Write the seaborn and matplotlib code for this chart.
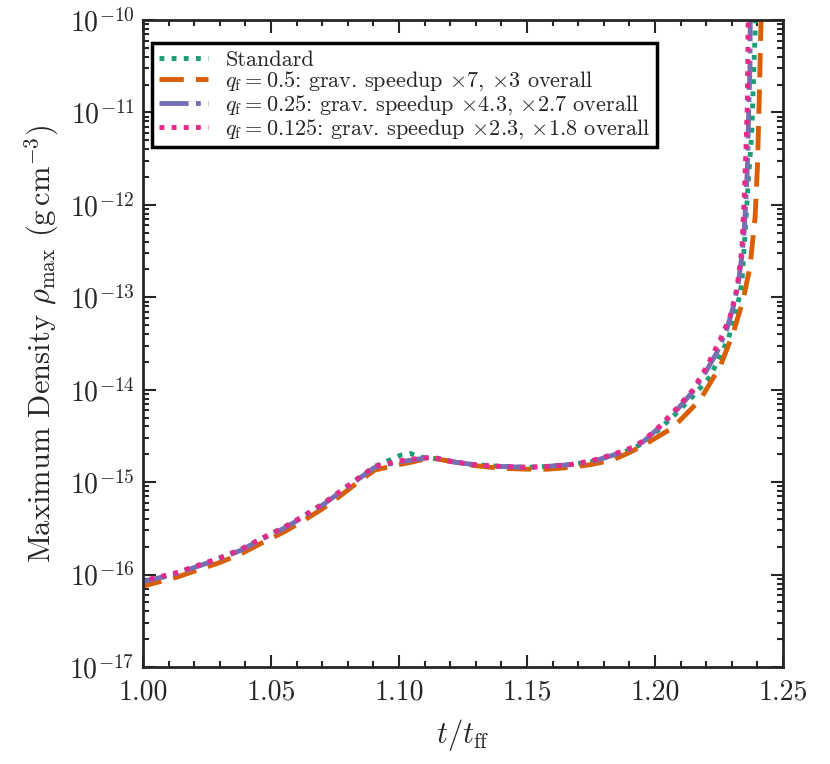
import numpy as np
import pandas as pd
import matplotlib
matplotlib.use('Agg')
import matplotlib.pyplot as plt
import seaborn as sns
from matplotlib.ticker import FixedLocator, MultipleLocator, NullFormatter

# t/t_ff and log10(rho_max)
x_std = [0.998, 1.013, 1.030, 1.038, 1.047, 1.055, 1.0625, 1.070, 1.077, 1.0835, 1.0905, 1.0965, 1.1005, 1.1045,
         1.108, 1.113, 1.121, 1.129, 1.1395, 1.150, 1.158, 1.167, 1.175, 1.1835, 1.1915, 1.1955, 1.202, 1.2085,
         1.2148, 1.2215, 1.2285, 1.2319, 1.2339, 1.2352, 1.2364, 1.2378, 1.2384, 1.2391, 1.2393]
y_std = [-16.10, -15.99, -15.82, -15.73, -15.60, -15.49, -15.37, -15.24, -15.10, -14.97, -14.83, -14.76, -14.71,
         -14.69, -14.73, -14.74, -14.78, -14.81, -14.83, -14.84, -14.83, -14.81, -14.78, -14.71, -14.64, -14.57,
         -14.42, -14.25, -14.07, -13.86, -13.46, -13.14, -12.85, -12.30, -11.76, -11.22, -10.68, -10.14, -9.9]

x_q05 = [0.998, 1.013, 1.030, 1.038, 1.047, 1.055, 1.0625, 1.070, 1.077, 1.0835, 1.0905, 1.100, 1.1055, 1.110,
         1.113, 1.121, 1.129, 1.1395, 1.150, 1.158, 1.167, 1.175, 1.1835, 1.190, 1.1968, 1.207, 1.2176, 1.2254,
         1.2305, 1.2344, 1.2371, 1.2391, 1.2400, 1.2407, 1.2413, 1.2416]
y_q05 = [-16.14, -16.03, -15.87, -15.78, -15.65, -15.54, -15.42, -15.29, -15.15, -15.01, -14.87, -14.81, -14.78,
         -14.75, -14.74, -14.78, -14.82, -14.85, -14.86, -14.86, -14.84, -14.81, -14.76, -14.68, -14.58, -14.41,
         -14.11, -13.75, -13.39, -13.03, -12.67, -12.13, -11.59, -10.87, -10.14, -9.9]

x_q025 = [0.998, 1.013, 1.030, 1.038, 1.047, 1.055, 1.0625, 1.070, 1.077, 1.0835, 1.0905, 1.100, 1.1055, 1.110,
          1.113, 1.121, 1.129, 1.1395, 1.150, 1.158, 1.167, 1.175, 1.1835, 1.1915, 1.1955, 1.202, 1.2085, 1.2148,
          1.2202, 1.2241, 1.228, 1.2306, 1.2325, 1.2339, 1.2348, 1.2355, 1.2361, 1.2364, 1.2367, 1.2371, 1.2372]
y_q025 = [-16.09, -15.99, -15.83, -15.74, -15.61, -15.50, -15.38, -15.25, -15.11, -14.98, -14.84, -14.78, -14.76,
          -14.74, -14.73, -14.78, -14.81, -14.83, -14.84, -14.83, -14.81, -14.78, -14.71, -14.63, -14.56, -14.40,
          -14.22, -14.02, -13.79, -13.60, -13.35, -13.10, -12.85, -12.56, -12.30, -11.95, -11.59, -11.22, -10.87,
          -10.50, -9.9]

x_q0125 = [0.998, 1.013, 1.030, 1.038, 1.047, 1.055, 1.0625, 1.070, 1.077, 1.0835, 1.0905, 1.100, 1.1055, 1.110,
           1.113, 1.121, 1.129, 1.1395, 1.150, 1.158, 1.167, 1.175, 1.1835, 1.1915, 1.1955, 1.202, 1.2085, 1.2148,
           1.2202, 1.2254, 1.2293, 1.2319, 1.2339, 1.2348, 1.2355, 1.2361, 1.2364]
y_q0125 = [-16.08, -15.98, -15.82, -15.73, -15.60, -15.49, -15.37, -15.24, -15.10, -14.97, -14.83, -14.77, -14.75,
           -14.74, -14.73, -14.78, -14.81, -14.83, -14.84, -14.83, -14.81, -14.77, -14.70, -14.62, -14.55, -14.39,
           -14.20, -14.00, -13.75, -13.46, -13.21, -12.92, -12.49, -11.95, -11.41, -10.87, -9.9]

labels = ['Standard',
          r'$q_{\rm f} = 0.5$: grav. speedup $\times 7$, $\times 3$ overall',
          r'$q_{\rm f} = 0.25$: grav. speedup $\times 4.3$, $\times 2.7$ overall',
          r'$q_{\rm f} = 0.125$: grav. speedup $\times 2.3$, $\times 1.8$ overall']

decades = [-17, -16, -15, -14, -13, -12, -11, -10]

sns.set_style('ticks')
plt.rcParams.update({'font.family': 'serif', 'font.serif': ['cmr10'], 'mathtext.fontset': 'cm',
                     'axes.formatter.use_mathtext': True, 'axes.unicode_minus': False})

colors = sns.color_palette('Dark2', 4)
styles = [(0, (1, 1.5)), (0, (5, 2.5)), (0, (6, 1.5, 1, 1.5)), (0, (1, 1.5))]

fig = plt.figure(figsize=(8.3, 7.64), dpi=100)
ax = fig.add_axes([0.1723, 0.127, 0.7711, 0.8468])

series = [(x_std, y_std), (x_q05, y_q05), (x_q025, y_q025), (x_q0125, y_q0125)]
for (xs, ys), lab, c, ls in zip(series, labels, colors, styles):
    df = pd.DataFrame({'t': xs, 'rho': 10.0 ** np.array(ys)})
    sns.lineplot(data=df, x='t', y='rho', sort=False, estimator=None, color=c, lw=3.5,
                 label=lab, ax=ax)
    ax.lines[-1].set_linestyle(ls)

ax.set_yscale('log')
ax.set_xlim(1.0, 1.25)
ax.set_ylim(1e-17, 1e-10)
ax.xaxis.set_major_locator(MultipleLocator(0.05))
ax.xaxis.set_minor_locator(MultipleLocator(0.01))
ax.xaxis.set_major_formatter(plt.FuncFormatter(lambda v, p: f'{v:.2f}'))
ax.yaxis.set_major_locator(FixedLocator([10.0 ** d for d in decades]))
ax.yaxis.set_major_formatter(plt.FuncFormatter(lambda v, p: rf'$10^{{{int(round(np.log10(v)))}}}$'))
minor = [m * 10.0 ** d for d in decades[:-1] for m in range(2, 10)]
ax.yaxis.set_minor_locator(FixedLocator(minor))
ax.yaxis.set_minor_formatter(NullFormatter())
ax.tick_params(which='both', direction='in', top=True, right=True, width=1.5, labelsize=20)
ax.tick_params(which='major', length=9)
ax.tick_params(which='minor', length=4.5)
ax.tick_params(axis='x', pad=9)
ax.tick_params(axis='y', pad=6)
for sp in ax.spines.values():
    sp.set_linewidth(2)

ax.set_xlabel(r'$t/t_{\rm ff}$', fontsize=22, labelpad=8)
ax.set_ylabel(r'Maximum Density $\rho_{\rm max}$ (g$\,$cm$^{-3}$)', fontsize=22, labelpad=6)

leg = ax.legend(loc='upper left', bbox_to_anchor=(0.014, 0.964), borderaxespad=0, fontsize=16,
                frameon=True, fancybox=False, edgecolor='black', framealpha=1,
                handlelength=2.2, labelspacing=0.0, borderpad=0.3, handletextpad=0.8)
leg.get_frame().set_linewidth(2.5)

fig.savefig('out.png', dpi=100)
